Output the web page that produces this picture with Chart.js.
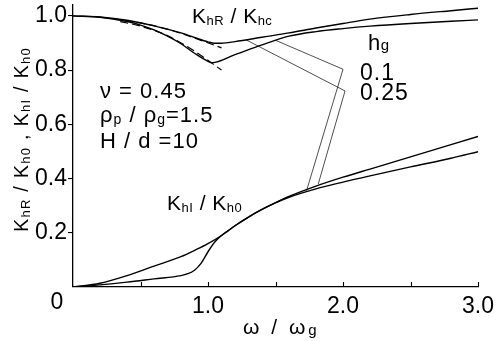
<!DOCTYPE html>
<html>
<head>
<meta charset="utf-8">
<script src="https://cdn.jsdelivr.net/npm/chart.js@4.4.0/dist/chart.umd.min.js"></script>
<style>
  html, body { margin: 0; padding: 0; background: #fff; }
  #wrap { width: 497px; height: 341px; }
</style>
</head>
<body>
<div id="wrap"><canvas id="chart" width="497" height="341"></canvas></div>
<script>
// axis ticks
const xTicks = [0, 0.5, 1.0, 1.5, 2.0, 2.5, 3.0];
const xTickLabels = ['0', '', '1.0', '', '2.0', '', '3.0'];
const yTicks = [0.2, 0.4, 0.6, 0.8, 1.0];
const yTickLabels = ['0.2', '0.4', '0.6', '0.8', '1.0'];

// K_hR / K_hc, h_g = 0.25 (shallow dip)
const omegaR25 = [0, 0.2, 0.4, 0.6, 0.8, 0.9, 1.0, 1.05, 1.1, 1.2, 1.4, 1.6, 1.8, 2.0, 2.2, 2.5, 2.8, 3.0];
const khr25 = [1.0, 0.996, 0.984, 0.963, 0.937, 0.92, 0.904, 0.899, 0.899, 0.905, 0.921, 0.937, 0.955, 0.972, 0.988, 1.005, 1.019, 1.028];
// K_hR / K_hc, h_g = 0.1 (deep dip)
const omegaR10 = [0, 0.2, 0.4, 0.5, 0.6, 0.7, 0.8, 0.9, 1.0, 1.03, 1.2, 1.4, 1.6, 1.8, 2.0, 2.2, 2.5, 2.8, 3.0];
const khr10 = [1.0, 0.995, 0.979, 0.966, 0.948, 0.925, 0.897, 0.862, 0.832, 0.827, 0.857, 0.893, 0.925, 0.942, 0.953, 0.962, 0.972, 0.98, 0.985];

// dashed approximations
const omegaDash1 = [0.3, 0.5, 0.7, 0.9, 1.1];
const dash1 = [0.989, 0.974, 0.951, 0.918, 0.882];
const omegaDash2 = [0.35, 0.5, 0.7, 0.9, 1.1];
const dash2 = [0.979, 0.962, 0.927, 0.87, 0.80];

// K_hI / K_h0
const omegaI25 = [0, 0.2, 0.4, 0.6, 0.8, 0.9, 1.0, 1.1, 1.15, 1.2, 1.3, 1.4, 1.5, 1.6, 1.8, 2.0, 2.2, 2.5, 2.8, 3.0];
const khi25 = [0, 0.014, 0.042, 0.077, 0.112, 0.135, 0.16, 0.19, 0.208, 0.226, 0.258, 0.286, 0.311, 0.334, 0.372, 0.405, 0.435, 0.48, 0.525, 0.555];
const omegaI10 = [0, 0.2, 0.4, 0.6, 0.8, 0.85, 0.9, 0.95, 1.0, 1.05, 1.1, 1.15, 1.2, 1.3, 1.4, 1.5, 1.6, 1.8, 2.0, 2.2, 2.5, 2.8, 3.0];
const khi10 = [0, 0.008, 0.018, 0.03, 0.042, 0.049, 0.062, 0.088, 0.13, 0.166, 0.19, 0.208, 0.226, 0.258, 0.286, 0.31, 0.331, 0.362, 0.387, 0.41, 0.443, 0.475, 0.499];

// leader lines from the h_g labels to the curves
const leadX10 = [1.5, 2.0, 1.73];
const leadY10 = [0.91, 0.803, 0.355];
const leadX25 = [1.28, 2.015, 1.817];
const leadY25 = [0.912, 0.723, 0.38];

const FONT = '"Liberation Sans", Arial, sans-serif';

function pts(xs, ys) {
    return xs.map((x, i) => ({ x: x, y: ys[i] }));
}

function curve(xs, ys, extra) {
    return Object.assign({
        data: pts(xs, ys),
        showLine: true,
        borderColor: '#000',
        borderWidth: 1.4,
        pointRadius: 0,
        fill: false,
        cubicInterpolationMode: 'monotone'
    }, extra || {});
}

// draws text piece by piece so subscripts and letter spacing work
function rich(ctx, x, y, parts, track) {
    parts.forEach(p => {
        ctx.font = p.s + 'px ' + FONT;
        for (const ch of p.t) {
            ctx.fillText(ch, x, y + (p.dy || 0));
            x += ctx.measureText(ch).width + (track || 0);
        }
    });
    return x;
}

const annotations = {
    id: 'annotations',
    afterDraw(chart) {
        const ctx = chart.ctx;
        const xs = chart.scales.x;
        const bottom = chart.chartArea.bottom;
        ctx.save();
        ctx.strokeStyle = '#000';
        ctx.lineWidth = 1.1;
        // inward ticks on x axis
        xTicks.forEach(v => {
            if (v === 0) return;
            const px = Math.round(xs.getPixelForValue(v)) + 0.5;
            ctx.beginPath();
            ctx.moveTo(px, bottom);
            ctx.lineTo(px, bottom - 5);
            ctx.stroke();
        });

        ctx.fillStyle = '#000';
        ctx.textBaseline = 'alphabetic';
        // corner "0"
        ctx.font = '23px ' + FONT;
        ctx.textAlign = 'center';
        ctx.fillText(xTickLabels[0], xs.getPixelForValue(0) - 16, 309);
        ctx.textAlign = 'left';

        rich(ctx, 192, 23, [{t: 'K', s: 21}, {t: 'hR', s: 13, dy: 2}, {t: ' / ', s: 21}, {t: 'K', s: 21}, {t: 'hc', s: 13, dy: 2}], 0.5);
        rich(ctx, 167, 210, [{t: 'K', s: 21}, {t: 'hI', s: 13, dy: 2}, {t: ' / ', s: 21}, {t: 'K', s: 21}, {t: 'h0', s: 13, dy: 2}], 0.5);

        rich(ctx, 368, 50, [{t: 'h', s: 22}, {t: 'g', s: 15}], 0.5);
        rich(ctx, 360, 80, [{t: '0.1', s: 23}], 1);
        rich(ctx, 360, 100, [{t: '0.25', s: 23}], 1);

        rich(ctx, 100, 98, [{t: 'ν = 0.45', s: 22}], 1);
        rich(ctx, 100, 122, [{t: 'ρ', s: 22}, {t: 'p', s: 14, dy: 2}, {t: ' / ', s: 22}, {t: 'ρ', s: 22}, {t: 'g', s: 14, dy: 2}, {t: '=1.5', s: 22}], 1);
        rich(ctx, 100, 148, [{t: 'H / d =10', s: 22}], 1);

        // x axis title
        rich(ctx, 243, 334, [{t: 'ω / ω', s: 21}, {t: 'g', s: 15, dy: 1}], 3);

        // y axis title, reading bottom to top
        ctx.translate(28, 232);
        ctx.rotate(-Math.PI / 2);
        rich(ctx, 0, 0, [
            {t: 'K', s: 20}, {t: 'hR', s: 13, dy: 2}, {t: ' / ', s: 20}, {t: 'K', s: 20}, {t: 'h0', s: 13, dy: 2},
            {t: ' , ', s: 20},
            {t: 'K', s: 20}, {t: 'hI', s: 13, dy: 2}, {t: ' / ', s: 20}, {t: 'K', s: 20}, {t: 'h0', s: 13, dy: 2}
        ], 1.2);
        ctx.restore();
    }
};

new Chart(document.getElementById('chart'), {
    type: 'scatter',
    data: {
        datasets: [
            curve(omegaR25, khr25),
            curve(omegaR10, khr10),
            curve(omegaDash1, dash1, { borderDash: [8, 4], borderWidth: 1.2 }),
            curve(omegaDash2, dash2, { borderDash: [8, 4], borderWidth: 1.2 }),
            curve(omegaI25, khi25),
            curve(omegaI10, khi10),
            curve(leadX10, leadY10, { borderWidth: 0.8, borderColor: '#222', cubicInterpolationMode: 'default', tension: 0 }),
            curve(leadX25, leadY25, { borderWidth: 0.8, borderColor: '#222', cubicInterpolationMode: 'default', tension: 0 })
        ]
    },
    options: {
        responsive: false,
        animation: false,
        layout: { padding: { top: 5, right: 19, left: 0, bottom: 0 } },
        plugins: {
            legend: { display: false },
            tooltip: { enabled: false }
        },
        scales: {
            x: {
                type: 'linear',
                min: 0,
                max: 3,
                afterBuildTicks: s => { s.ticks = xTicks.map(v => ({ value: v })); },
                afterFit: s => { s.height = 54; s.paddingLeft = 0; s.paddingRight = 0; },
                grid: { display: false, drawTicks: false },
                border: { display: true, color: '#000', width: 1.3 },
                ticks: {
                    color: '#000',
                    font: { family: FONT, size: 23 },
                    padding: 6,
                    maxRotation: 0,
                    autoSkip: false,
                    callback: (v, i) => (i === 0 ? '' : xTickLabels[i])
                }
            },
            y: {
                type: 'linear',
                min: 0,
                max: 1.04,
                afterBuildTicks: s => { s.ticks = yTicks.map(v => ({ value: v })); },
                afterFit: s => { s.width = 73; s.paddingTop = 0; s.paddingBottom = 0; },
                grid: { drawOnChartArea: false, drawTicks: true, tickLength: 5, color: '#000', lineWidth: 1.1 },
                border: { display: true, color: '#000', width: 1.3 },
                ticks: {
                    color: '#000',
                    font: { family: FONT, size: 23 },
                    padding: 1,
                    callback: (v, i) => yTickLabels[i]
                }
            }
        }
    },
    plugins: [annotations]
});
</script>
</body>
</html>
